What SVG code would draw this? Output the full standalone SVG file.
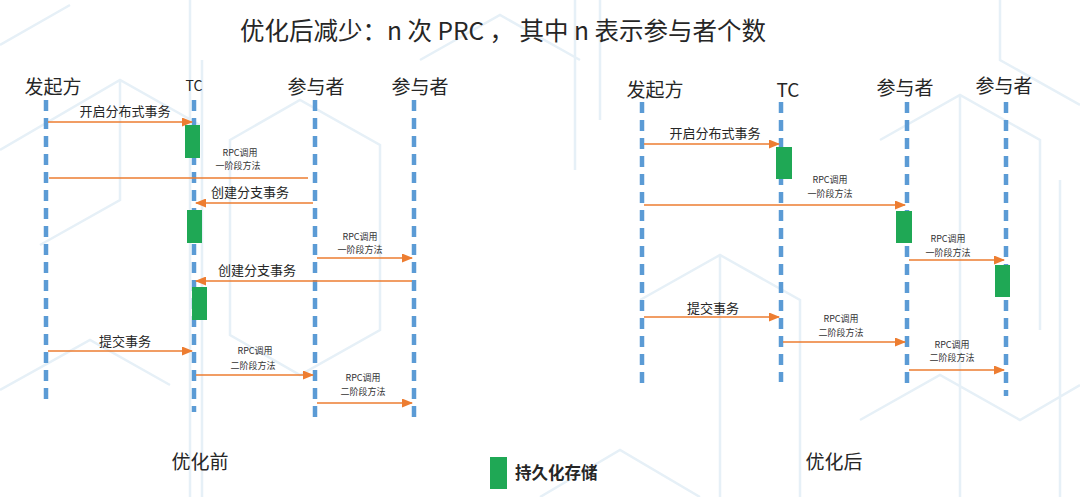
<svg xmlns="http://www.w3.org/2000/svg" width="1080" height="497" viewBox="0 0 1080 497">
<defs>
<marker id="ah" markerUnits="userSpaceOnUse" markerWidth="11" markerHeight="9" refX="10" refY="4.5" orient="auto">
<path d="M0,0 L11,4.5 L0,9 z" fill="#ed7d31"/>
</marker>
<style>
.bg{fill:none;stroke:#e6f0f7;stroke-width:2.5}
.life{stroke:#5b9bd5;stroke-width:4.5;stroke-dasharray:11 7;fill:none}
.act{fill:#1fa855}
.msg{stroke:#ed7d31;stroke-width:1.3;fill:none}
.arr{marker-end:url(#ah)}
.t{font-family:"Noto Sans CJK SC","Liberation Sans",sans-serif;fill:#262626;text-anchor:middle}
.hd{font-size:19px}
.lb{font-size:13px}
.sm{font-size:9px;fill:#333}
</style>
</defs>
<rect width="1080" height="497" fill="#ffffff"/>
<g id="background">
<path class="bg" d="M0,45 L70,5 M0,150 L120,80 L200,125 M190,0 L190,497 M202,60 L202,497 M120,80 L120,200 L40,245 M230,140 L300,100 L380,145 L380,330 L300,375 L230,335 Z M420,60 L500,15 L580,60 M575,0 L575,170 M600,0 L600,120 M640,300 L720,255 L800,300 L800,497 M720,255 L720,497 M880,140 L960,95 L1040,140 L1040,330 M960,95 L960,497 M1000,0 L1000,60 L1080,105 M1060,180 L1060,497 M0,390 L90,340 L170,385 M540,497 L620,450 L700,497 M860,420 L940,375 L1020,420 L1080,385"/>
</g>
<text class="t" x="503" y="40" style="font-size:24.5px">优化后减少：n 次 PRC ， 其中 n 表示参与者个数</text>
<g id="left-initiator">
<text class="t hd" x="53" y="94">发起方</text>
<line class="life" x1="46" y1="100" x2="46" y2="406"/>
</g>
<g id="left-tc">
<text class="t" x="194" y="91" style="font-size:14px">TC</text>
<line class="life" x1="194" y1="100" x2="194" y2="412"/>
<rect class="act" x="185" y="125" width="15" height="33"/>
<rect class="act" x="187" y="210" width="15" height="33"/>
<rect class="act" x="192" y="287" width="15" height="33"/>
</g>
<g id="left-participant1">
<text class="t hd" x="316" y="94">参与者</text>
<line class="life" x1="315" y1="100" x2="315" y2="424"/>
</g>
<g id="left-participant2">
<text class="t hd" x="420" y="94">参与者</text>
<line class="life" x1="414" y1="100" x2="414" y2="424"/>
</g>
<g id="right-initiator">
<text class="t hd" x="655" y="97">发起方</text>
<line class="life" x1="642" y1="102" x2="642" y2="383"/>
</g>
<g id="right-tc">
<text class="t hd" x="788" y="97">TC</text>
<line class="life" x1="781" y1="102" x2="781" y2="382"/>
<rect class="act" x="776" y="147" width="16" height="32"/>
</g>
<g id="right-participant1">
<text class="t hd" x="905" y="95">参与者</text>
<line class="life" x1="907" y1="102" x2="907" y2="384"/>
<rect class="act" x="896" y="211" width="16" height="32"/>
</g>
<g id="right-participant2">
<text class="t hd" x="1004" y="93">参与者</text>
<line class="life" x1="1006" y1="102" x2="1006" y2="396"/>
<rect class="act" x="995" y="265" width="15" height="32"/>
</g>
<g id="connectors">
<line class="msg arr" x1="48" y1="122" x2="192" y2="122"/>
<line class="msg" x1="308" y1="178" x2="49" y2="178"/>
<line class="msg arr" x1="313" y1="203" x2="196" y2="203"/>
<line class="msg arr" x1="317" y1="258" x2="412" y2="258"/>
<line class="msg arr" x1="412" y1="281" x2="196" y2="281"/>
<line class="msg arr" x1="48" y1="351" x2="192" y2="351"/>
<line class="msg arr" x1="196" y1="375" x2="313" y2="375"/>
<line class="msg arr" x1="317" y1="403" x2="412" y2="403"/>
<line class="msg arr" x1="644" y1="144" x2="779" y2="144"/>
<line class="msg arr" x1="644" y1="205" x2="905" y2="205"/>
<line class="msg arr" x1="909" y1="260" x2="1004" y2="260"/>
<line class="msg arr" x1="644" y1="317" x2="779" y2="317"/>
<line class="msg arr" x1="783" y1="342" x2="905" y2="342"/>
<line class="msg arr" x1="909" y1="370" x2="1004" y2="370"/>
</g>
<g id="labels">
<text class="t lb" x="125" y="116">开启分布式事务</text>
<text class="t sm" x="240" y="156">RPC调用</text>
<text class="t sm" x="238" y="169">一阶段方法</text>
<text class="t lb" x="250" y="197">创建分支事务</text>
<text class="t sm" x="360" y="240">RPC调用</text>
<text class="t sm" x="360" y="253">一阶段方法</text>
<text class="t lb" x="257" y="275">创建分支事务</text>
<text class="t lb" x="125" y="346">提交事务</text>
<text class="t sm" x="255" y="354">RPC调用</text>
<text class="t sm" x="253" y="369">二阶段方法</text>
<text class="t sm" x="363" y="381">RPC调用</text>
<text class="t sm" x="363" y="395">二阶段方法</text>
<text class="t lb" x="715" y="138">开启分布式事务</text>
<text class="t sm" x="830" y="183">RPC调用</text>
<text class="t sm" x="830" y="197">一阶段方法</text>
<text class="t sm" x="948" y="242">RPC调用</text>
<text class="t sm" x="948" y="256">一阶段方法</text>
<text class="t lb" x="713" y="313">提交事务</text>
<text class="t sm" x="841" y="322">RPC调用</text>
<text class="t sm" x="841" y="336">二阶段方法</text>
<text class="t sm" x="952" y="348">RPC调用</text>
<text class="t sm" x="952" y="361">二阶段方法</text>
</g>
<g id="captions">
<text class="t hd" x="200" y="469">优化前</text>
<text class="t hd" x="834" y="469">优化后</text>
</g>
<g id="legend">
<rect class="act" x="490" y="457" width="17" height="32"/>
<text class="t" x="515" y="479" style="font-size:16.5px;font-weight:bold;text-anchor:start">持久化存储</text>
</g>
</svg>
